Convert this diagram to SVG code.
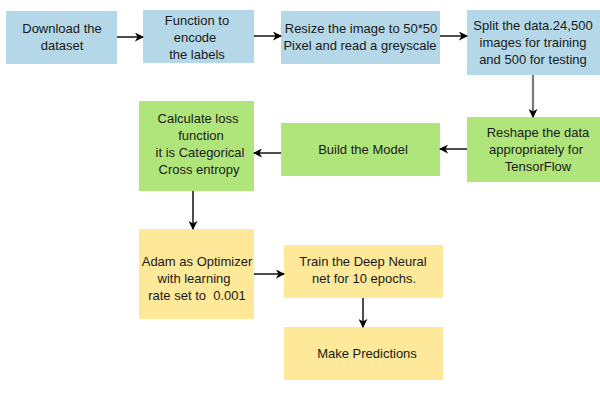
<svg xmlns="http://www.w3.org/2000/svg" width="600" height="400" viewBox="0 0 600 400">
<style>
.b{fill:#b4d8e7}
.g{fill:#b0e57c}
.y{fill:#fee89a}
text{font-family:"Liberation Sans",Arial,sans-serif;font-size:13px;fill:#1a1a1a;text-anchor:middle}
.c{stroke:#000;stroke-width:1.4;fill:none;marker-end:url(#ah)}
.gr{stroke:#7a7a7a;stroke-width:2.2;fill:none;marker-end:url(#ah)}
</style>
<defs>
<marker id="ah" viewBox="0 0 10 10" refX="9" refY="5" markerWidth="9" markerHeight="9" markerUnits="userSpaceOnUse" orient="auto">
<path d="M0,0 L10,5 L0,10 L3,5 Z" fill="#000"/>
</marker>
</defs>
<rect width="600" height="400" fill="#fff"/>
<g id="n1"><rect class="b" x="6" y="11" width="111" height="53"/>
<text x="62" y="33">Download the</text><text x="62" y="50">dataset</text></g>
<g id="n2"><rect class="b" x="143" y="10" width="111" height="53"/>
<text x="197" y="25">Function to</text><text x="195" y="42">encode</text><text x="197" y="59">the labels</text></g>
<g id="n3"><rect class="b" x="281" y="11" width="159" height="53"/>
<text x="361" y="33">Resize the image to 50*50</text><text x="360" y="50">Pixel and read a greyscale</text></g>
<g id="n4"><rect class="b" x="467" y="10" width="133" height="65"/>
<text x="533" y="30">Split the data.24,500</text><text x="533" y="47">images for training</text><text x="533" y="64">and 500 for testing</text></g>
<g id="n5"><rect class="g" x="467" y="117" width="133" height="65"/>
<text x="538" y="137">Reshape the data</text><text x="536" y="154">appropriately for</text><text x="538" y="171">TensorFlow</text></g>
<g id="n6"><rect class="g" x="281" y="123" width="159" height="53"/>
<text x="363" y="154">Build the Model</text></g>
<g id="n7"><rect class="g" x="139" y="101" width="115" height="90"/>
<text x="198" y="123">Calculate loss</text><text x="201" y="140">function</text><text x="200" y="157">it is Categorical</text><text x="199" y="174">Cross entropy</text></g>
<g id="n8"><rect class="y" x="139" y="229" width="115" height="90"/>
<text x="197" y="266">Adam as Optimizer</text><text x="194" y="283">with learning</text><text x="197" y="300" xml:space="preserve">rate set to  0.001</text></g>
<g id="n9"><rect class="y" x="284" y="245" width="159" height="53"/>
<text x="363" y="266">Train the Deep Neural</text><text x="364" y="283">net for 10 epochs.</text></g>
<g id="n10"><rect class="y" x="284" y="327" width="159" height="53"/>
<text x="367" y="358">Make Predictions</text></g>
<g id="connectors">
<line class="c" x1="117" y1="37" x2="143" y2="37"/>
<line class="c" x1="254" y1="36" x2="281" y2="36"/>
<line class="c" x1="440" y1="36" x2="467" y2="36"/>
<line class="gr" x1="533" y1="75" x2="533" y2="117"/>
<line class="c" x1="467" y1="149" x2="440" y2="149"/>
<line class="c" x1="281" y1="153" x2="254" y2="153"/>
<line class="c" x1="193" y1="191" x2="193" y2="229"/>
<line class="c" x1="254" y1="274" x2="284" y2="274"/>
<line class="c" x1="363" y1="298" x2="363" y2="327"/>
</g>
</svg>
